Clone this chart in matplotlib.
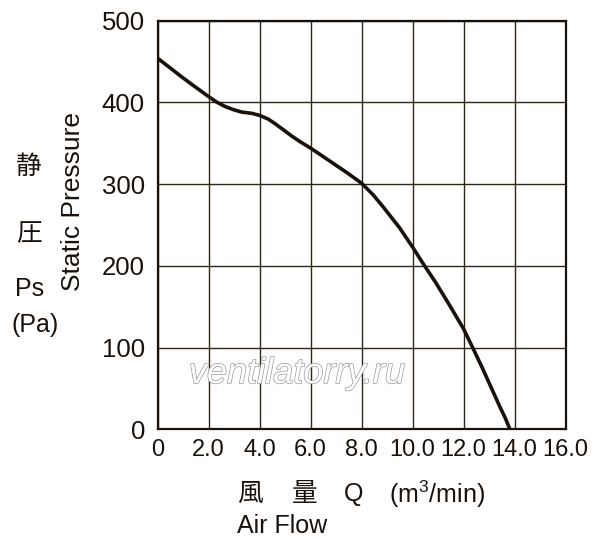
import matplotlib
matplotlib.use("Agg")
import matplotlib.pyplot as plt
import matplotlib.patheffects as pe

# Fan curve: air flow (m3/min) vs static pressure (Pa)
air_flow = [0.0, 0.95, 1.47, 2.0, 2.33, 2.64, 2.97, 3.3, 3.69, 4.0, 4.34,
            4.6, 4.93, 5.25, 5.58, 6.0, 6.43, 6.95, 7.47, 8.0, 8.45, 8.85,
            9.48, 10.0, 10.45, 10.9, 11.43, 12.0, 12.42, 12.74, 13.26,
            13.45, 13.65, 13.82]
pressure = [454, 431, 419, 407, 400, 395, 391, 388, 386.5, 384, 379.5,
            374, 366.5, 359, 352, 344, 335, 324, 313, 301, 287, 272,
            247, 223, 201, 180, 153, 123, 96, 75, 39,
            26, 13, 0]

x_ticks = [0, 2, 4, 6, 8, 10, 12, 14, 16]
x_tick_labels = ["0", "2.0", "4.0", "6.0", "8.0", "10.0", "12.0", "14.0", "16.0"]
y_ticks = [0, 100, 200, 300, 400, 500]

ink = "#1a120a"
grid_col = "#2e2518"
fams = ["Liberation Sans", "Noto Sans CJK JP", "DejaVu Sans"]
plt.rcParams["font.family"] = fams
plt.rcParams["mathtext.fontset"] = "custom"
plt.rcParams["mathtext.rm"] = "Liberation Sans"
plt.rcParams["mathtext.default"] = "rm"

W, H = 600, 543
fig = plt.figure(figsize=(W / 100, H / 100), dpi=100)
ax = fig.add_axes([157.5 / W, 1 - 429.3 / H, 408 / W, 408.8 / H])

ax.plot(air_flow, pressure, color=ink, linewidth=2.6, solid_capstyle="round",
        solid_joinstyle="round", zorder=3)

ax.set_xlim(0, 16)
ax.set_ylim(0, 500)
ax.set_xticks(x_ticks)
ax.set_xticklabels(x_tick_labels)
ax.set_yticks(y_ticks)
ax.grid(True, color=grid_col, linewidth=1.0)
ax.set_axisbelow(True)
ax.tick_params(axis="both", length=0, colors=ink)
ax.tick_params(axis="x", labelsize=17, pad=7)
ax.tick_params(axis="y", labelsize=18.5, pad=9)
for s in ax.spines.values():
    s.set_color(ink)
    s.set_linewidth(1.6)

# watermark
ax.text(0.342, 0.113, "ventilatorry.ru", transform=ax.transAxes,
        ha="center", va="baseline", fontsize=26, style="italic",
        color="white", zorder=2,
        path_effects=[pe.withStroke(linewidth=1.0, foreground="#9a9a9a")])


def ftext(x, y, s, size=18, **kw):
    fig.text(x / W, 1 - y / H, s, fontsize=size, color=ink,
             family=fams, **kw)


# left labels
ftext(73, 201, "Static Pressure", size=19, rotation=90, ha="center", va="center")
ftext(29, 167, "静", size=18.5, ha="center", va="center")
ftext(29, 234, "圧", size=18.5, ha="center", va="center")
ftext(30, 289, "Ps", ha="center", va="center")
ftext(35, 325, "(Pa)", ha="center", va="center")

# bottom labels
ftext(250, 494, "風", size=18.5, ha="center", va="center")
ftext(305, 494, "量", size=18.5, ha="center", va="center")
ftext(354, 494, "Q", ha="center", va="center")
ftext(389, 494, "(m$^3$/min)", ha="left", va="center")
ftext(237, 526, "Air Flow", ha="left", va="center")

fig.savefig("out.png", dpi=100)
